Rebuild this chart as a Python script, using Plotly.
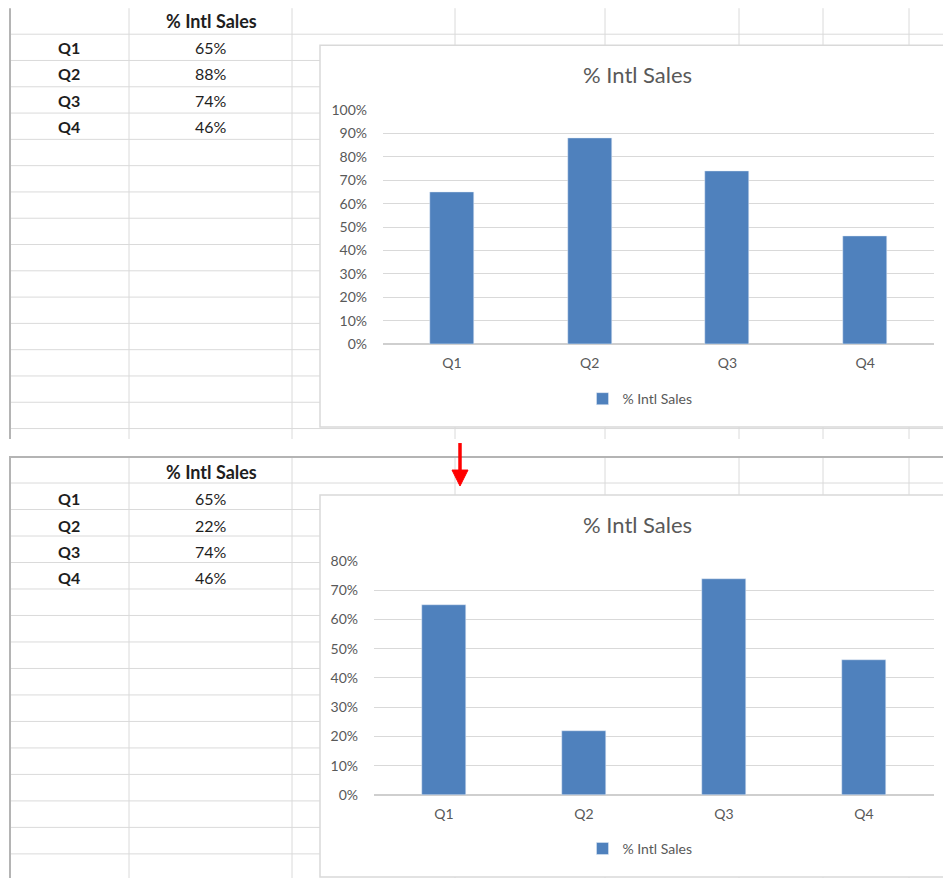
import plotly.graph_objects as go

# Calibration of the page photograph (measured on earlier renders):
#   screen_x = 8 + figure_x          (body margin)
#   screen_y = 16.8 + 0.981 * figure_y
# fx / fy convert wanted screen pixels into paper fractions.
W, H = 943, 878
OX = 8.0
OY, KY = 16.8, 0.981

# ---- data ----
quarters = ["Q1", "Q2", "Q3", "Q4"]
series_name = "% Intl Sales"
sales_before = [0.65, 0.88, 0.74, 0.46]
sales_after = [0.65, 0.22, 0.74, 0.46]
ticks_before = [0, 0.1, 0.2, 0.3, 0.4, 0.5, 0.6, 0.7, 0.8, 0.9, 1.0]
ticks_after = [0, 0.1, 0.2, 0.3, 0.4, 0.5, 0.6, 0.7, 0.8]

BAR = "#4f81bd"
GRID = "#d9d9d9"
CELL = "#dadada"
TXT = "#595959"
FONT = "Lato"


def fx(x):
    return (x - OX) / W


def fy(y):
    return 1 - ((y - OY) / KY) / H


fig = go.Figure()

fig.add_trace(go.Bar(x=quarters, y=sales_before, name=series_name, marker_color=BAR,
                     width=0.32, xaxis="x", yaxis="y", legend="legend", hoverinfo="skip"))
fig.add_trace(go.Bar(x=quarters, y=sales_after, name=series_name, marker_color=BAR,
                     width=0.32, xaxis="x2", yaxis="y2", legend="legend2", hoverinfo="skip"))

shapes = []
annotations = []

col_lines = [129, 292, 455, 605, 739, 823, 909]


def sheet(top, bottom, first_row, row_h, n_rows, border_top):
    for x in col_lines:
        shapes.append(dict(type="line", xref="paper", yref="paper", x0=fx(x), x1=fx(x),
                           y0=fy(top), y1=fy(bottom), line=dict(color=CELL, width=1), layer="below"))
    for i in range(n_rows):
        y = first_row + i * row_h
        if y > bottom:
            break
        shapes.append(dict(type="line", xref="paper", yref="paper", x0=fx(10), x1=fx(960),
                           y0=fy(y), y1=fy(y), line=dict(color=CELL, width=1), layer="below"))
    if border_top:
        shapes.append(dict(type="line", xref="paper", yref="paper", x0=fx(9), x1=fx(960),
                           y0=fy(top), y1=fy(top), line=dict(color="#b4b4b4", width=2), layer="below"))
    shapes.append(dict(type="line", xref="paper", yref="paper", x0=fx(10), x1=fx(10),
                       y0=fy(top), y1=fy(bottom), line=dict(color="#b4b4b4", width=2), layer="below"))


sheet(8, 439, 34, 26.3, 16, False)
sheet(457, 890, 483, 26.5, 16, True)


def table(header_y, row_h, values):
    annotations.append(dict(xref="paper", yref="paper", x=fx(211), y=fy(header_y), text="<b>" + series_name + "</b>",
                            showarrow=False, xanchor="center", yanchor="middle",
                            font=dict(family=FONT, size=18, color="#1e1e1e")))
    for i, (q, v) in enumerate(zip(quarters, values)):
        yy = header_y + (i + 1) * row_h
        annotations.append(dict(xref="paper", yref="paper", x=fx(69), y=fy(yy), text="<b>" + q + "</b>",
                                showarrow=False, xanchor="center", yanchor="middle",
                                font=dict(family=FONT, size=16, color="#1e1e1e")))
        annotations.append(dict(xref="paper", yref="paper", x=fx(211), y=fy(yy), text=f"{round(v*100)}%",
                                showarrow=False, xanchor="center", yanchor="middle",
                                font=dict(family=FONT, size=16, color="#1e1e1e")))


table(21, 26.4, sales_before)
table(472, 26.5, sales_after)


def chart_box(top, bottom, title_y):
    shapes.append(dict(type="rect", xref="paper", yref="paper", x0=fx(320), x1=fx(970),
                       y0=fy(bottom), y1=fy(top), fillcolor="white", line=dict(color=GRID, width=1.5),
                       layer="below"))
    annotations.append(dict(xref="paper", yref="paper", x=fx(637), y=fy(title_y), text=series_name,
                            showarrow=False, xanchor="center", yanchor="middle",
                            font=dict(family=FONT, size=22, color=TXT)))


chart_box(45, 427, 74)
chart_box(495, 877, 524)

# red arrow
shapes.append(dict(type="line", xref="paper", yref="paper", x0=fx(460), x1=fx(460), y0=fy(443), y1=fy(472),
                   line=dict(color="#ff0000", width=3.5)))
shapes.append(dict(type="path", xref="paper", yref="paper",
                   path=f"M {fx(452)} {fy(470)} L {fx(468)} {fy(470)} L {fx(460)} {fy(486)} Z",
                   fillcolor="#ff0000", line=dict(color="#ff0000", width=1)))

xaxis_common = dict(type="category", showgrid=False, showline=False, ticks="",
                    tickfont=dict(family=FONT, size=14, color=TXT), range=[-0.5, 3.5],
                    ticklabelstandoff=9, fixedrange=True)
yaxis_common = dict(showgrid=True, gridcolor=GRID, gridwidth=1, zeroline=True, zerolinecolor="#cfcfcf",
                    zerolinewidth=1.5, tickformat=".0%", ticks="", showline=False,
                    tickfont=dict(family=FONT, size=14, color=TXT), ticklabelstandoff=15, fixedrange=True)

fig.update_layout(
    width=W, height=H, margin=dict(l=0, r=0, t=0, b=0, pad=0),
    paper_bgcolor="white", plot_bgcolor="rgba(0,0,0,0)",
    showlegend=True, bargap=0,
    xaxis=dict(domain=[fx(383), fx(934)], anchor="y", **xaxis_common),
    yaxis=dict(domain=[fy(344), fy(110)], anchor="x", range=[0, 1.0], tickvals=ticks_before, **yaxis_common),
    xaxis2=dict(domain=[fx(374), fx(934)], anchor="y2", **xaxis_common),
    yaxis2=dict(domain=[fy(795), fy(561)], anchor="x2", range=[0, 0.8], tickvals=ticks_after, **yaxis_common),
    legend=dict(x=fx(640), y=fy(399), xanchor="center", yanchor="middle", orientation="h",
                font=dict(family=FONT, size=14, color=TXT), bgcolor="rgba(0,0,0,0)", itemwidth=30),
    legend2=dict(x=fx(640), y=fy(849), xanchor="center", yanchor="middle", orientation="h",
                 font=dict(family=FONT, size=14, color=TXT), bgcolor="rgba(0,0,0,0)", itemwidth=30),
    shapes=shapes, annotations=annotations,
)

fig.write_html("out.html")
